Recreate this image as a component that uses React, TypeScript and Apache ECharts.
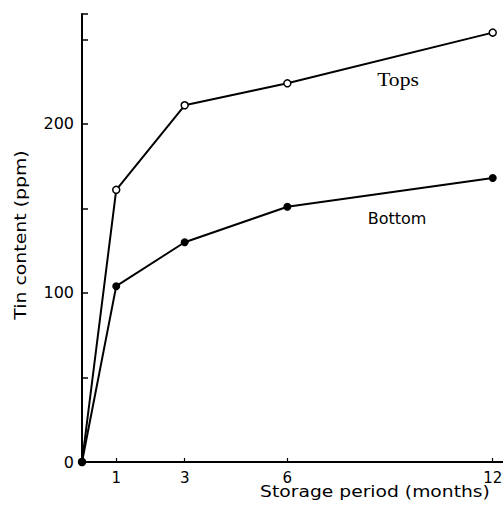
import React, { useEffect, useRef } from "react";
import * as echarts from "echarts";

// Storage period in months
const months = [0, 1, 3, 6, 12];
// Tin content (ppm) measured in the tops and bottoms of stored cans
const topsPpm = [0, 161, 211, 224, 254];
const bottomPpm = [0, 104, 130, 151, 168];

const xTickValues = [1, 3, 6, 12];
const yLabelValues = [0, 100, 200];

const FONT = "'DejaVu Sans', Verdana, sans-serif";

export default function App() {
  const ref = useRef<HTMLDivElement>(null);

  useEffect(() => {
    if (!ref.current) return;
    const chart = echarts.init(ref.current, null, { renderer: "svg" });

    const pair = (ys: number[]) => months.map((m, i) => [m, ys[i]]);

    chart.setOption({
      animation: false,
      backgroundColor: "#ffffff",
      grid: {
        left: 82,
        top: 14,
        right: 0,
        bottom: 46,
        containLabel: false,
        outerBoundsMode: "none",
      },
      xAxis: {
        type: "value",
        min: 0,
        max: 12.3,
        axisLine: { lineStyle: { color: "#000", width: 2 } },
        splitLine: { show: false },
        axisTick: {
          inside: true,
          length: 4,
          customValues: xTickValues,
          lineStyle: { color: "#000", width: 1.2 },
        },
        axisLabel: {
          customValues: xTickValues,
          color: "#000",
          fontFamily: FONT,
          fontSize: 15,
          margin: 8,
        },
      },
      yAxis: {
        type: "value",
        min: 0,
        max: 265,
        interval: 50,
        axisLine: { lineStyle: { color: "#000", width: 2 } },
        splitLine: { show: false },
        axisTick: {
          inside: true,
          length: 6,
          lineStyle: { color: "#000", width: 1.5 },
        },
        axisLabel: {
          color: "#000",
          fontFamily: FONT,
          fontSize: 16,
          margin: 8,
          formatter: (v: number) => (yLabelValues.includes(v) ? String(v) : ""),
        },
      },
      series: [
        {
          name: "Tops",
          type: "line",
          data: pair(topsPpm),
          symbol: "circle",
          symbolSize: 7,
          lineStyle: { color: "#000", width: 2 },
          itemStyle: { color: "#fff", borderColor: "#000", borderWidth: 1.5 },
          z: 3,
        },
        {
          name: "Bottom",
          type: "line",
          data: pair(bottomPpm),
          symbol: "circle",
          symbolSize: 8,
          lineStyle: { color: "#000", width: 2 },
          itemStyle: { color: "#000", borderColor: "#000", borderWidth: 0 },
          z: 3,
        },
      ],
      graphic: [
        {
          type: "text",
          x: 398,
          y: 80,
          scaleX: 1.2,
          style: {
            text: "Tops",
            fill: "#000",
            font: "18px 'Liberation Serif', 'Times New Roman', serif",
            textAlign: "center",
            textVerticalAlign: "middle",
          },
        },
        {
          type: "text",
          x: 397,
          y: 218,
          style: {
            text: "Bottom",
            fill: "#000",
            font: "16px " + FONT,
            textAlign: "center",
            textVerticalAlign: "middle",
          },
        },
        {
          type: "text",
          x: 375,
          y: 491,
          scaleX: 1.17,
          style: {
            text: "Storage period (months)",
            fill: "#000",
            font: "16px " + FONT,
            textAlign: "center",
            textVerticalAlign: "middle",
          },
        },
        {
          type: "text",
          x: 21,
          y: 235,
          rotation: Math.PI / 2,
          scaleX: 1.18,
          style: {
            text: "Tin content (ppm)",
            fill: "#000",
            font: "16px " + FONT,
            textAlign: "center",
            textVerticalAlign: "middle",
          },
        },
      ],
    });

    return () => chart.dispose();
  }, []);

  return <div ref={ref} style={{ width: 503, height: 508, position: "absolute", left: 0, top: 0 }} />;
}
